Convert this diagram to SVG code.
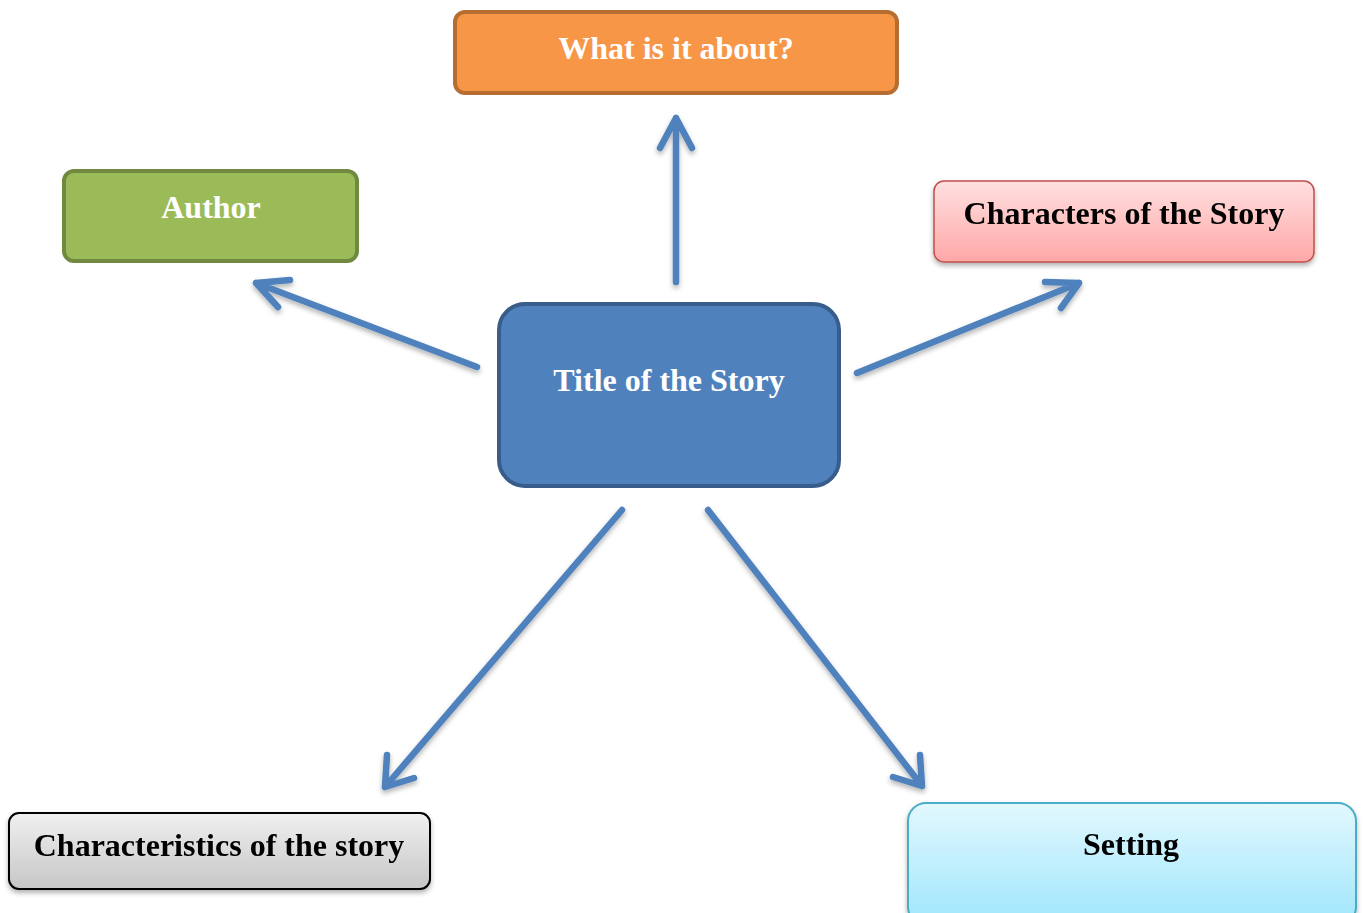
<svg xmlns="http://www.w3.org/2000/svg" width="1364" height="913" viewBox="0 0 1364 913">
<style>
text{font-family:"Liberation Serif","Times New Roman",serif;font-weight:bold;font-size:32px;text-anchor:middle;dominant-baseline:central}
.w{fill:#fff}
.k{fill:#000}
.arr{fill:none;stroke:#4F81BD;stroke-width:6.5;stroke-linecap:round;stroke-linejoin:round}
</style>
<defs>
<linearGradient id="gPink" x1="0" y1="0" x2="0" y2="1"><stop offset="0" stop-color="#FFE0E0"/><stop offset="1" stop-color="#FFA7A7"/></linearGradient>
<linearGradient id="gGray" x1="0" y1="0" x2="0" y2="1"><stop offset="0" stop-color="#F0F0F0"/><stop offset="1" stop-color="#C6C6C6"/></linearGradient>
<linearGradient id="gBlue" x1="0" y1="0" x2="0" y2="1"><stop offset="0" stop-color="#E2F8FE"/><stop offset="1" stop-color="#9FE6FC"/></linearGradient>
<filter id="sh" x="-10%" y="-10%" width="120%" height="140%"><feDropShadow dx="0" dy="3" stdDeviation="2.5" flood-color="#000" flood-opacity="0.3"/></filter>
</defs>
<g id="connectors" filter="url(#sh)">
<path class="arr" d="M676,282 L676,118 M660,148 L676,118 L692,148"/>
<path class="arr" d="M477,367 L256,283 M290,280 L256,283 L278,307"/>
<path class="arr" d="M857,373 L1079,283 M1045,282 L1079,283 L1061,308"/>
<path class="arr" d="M622,510 L385,787 M387,755 L385,787 L414,778"/>
<path class="arr" d="M708,510 L922,786 M920,755 L922,786 L893,777"/>
</g>
<g id="about">
<rect x="455" y="12" width="442" height="81" rx="10" fill="#F79646" stroke="#B66D31" stroke-width="4"/>
<text class="w" x="676" y="48">What is it about?</text>
</g>
<g id="author">
<rect x="64" y="171" width="293" height="90" rx="10" fill="#9BBB59" stroke="#71893F" stroke-width="4"/>
<text class="w" x="211" y="207">Author</text>
</g>
<g id="characters" filter="url(#sh)">
<rect x="934" y="181" width="380" height="81" rx="10" fill="url(#gPink)" stroke="#C0504D" stroke-width="1.5"/>
<text class="k" x="1124" y="213">Characters of the Story</text>
</g>
<g id="title">
<rect x="499" y="304" width="340" height="182" rx="26" fill="#4F81BD" stroke="#385D8A" stroke-width="4"/>
<text class="w" x="669" y="380">Title of the Story</text>
</g>
<g id="characteristics" filter="url(#sh)">
<rect x="9" y="813" width="421" height="76" rx="10" fill="url(#gGray)" stroke="#000" stroke-width="2"/>
<text class="k" x="219" y="845">Characteristics of the story</text>
</g>
<g id="setting" filter="url(#sh)">
<rect x="908" y="803" width="448" height="122" rx="18" fill="url(#gBlue)" stroke="#4BACC6" stroke-width="2"/>
<text class="k" x="1131" y="844">Setting</text>
</g>
</svg>
